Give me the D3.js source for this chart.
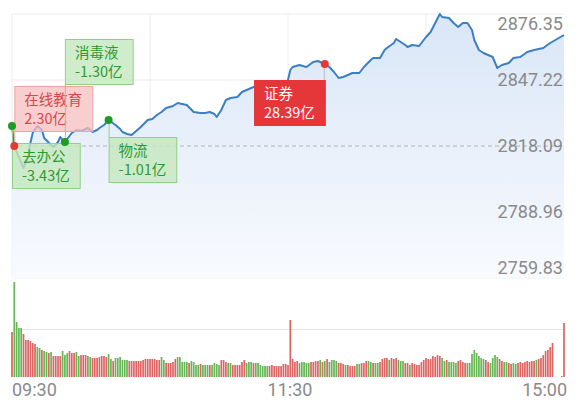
<!DOCTYPE html>
<html><head><meta charset="utf-8">
<script src="https://cdn.jsdelivr.net/npm/d3@7/dist/d3.min.js"></script>
<style>html,body{margin:0;padding:0;background:#fff}svg{display:block}</style>
</head><body><svg id="c" width="580" height="409"></svg>
<script>
// ---- data ----
const minutes=[0,1,3,5,7,8,9,11,13,14,
17,18,20,21,22,23,26,28,30,33,
35,37,38,40,42,45,47,48,50,52,
54,56,59,61,63,65,67,70,72,74,
76,79,82,84,86,88,89,91,93,95,
98,100,103,105,108,111,115,118,120,121,
122,125,128,131,133,136,138,140,142,144,
146,148,151,153,156,157,160,162,163,166,
167,169,171,172,174,177,178,180,182,184,
186,187,190,192,194,196,198,200,201,203,
205,207,209,211,213,216,218,221,224,227,
231,234,237,240];
const prices=[2826.92,2818.09,2813.24,2808.38,2813.24,2819.41,2823.83,2826.92,2825.15,2821.62,
2818.53,2817.65,2819.86,2822.06,2820.74,2819.86,2823.83,2825.15,2824.71,2826.03,
2824.27,2825.15,2826.03,2827.36,2829.57,2827.36,2825.59,2824.27,2823.39,2822.94,
2824.71,2826.48,2829.57,2830.01,2831.77,2833.10,2834.86,2835.74,2837.07,2836.63,
2836.19,2833.10,2832.65,2832.65,2833.10,2832.21,2830.89,2833.98,2838.39,2839.28,
2839.72,2841.92,2843.25,2844.13,2844.57,2844.57,2843.69,2844.57,2847.22,2851.63,
2852.96,2853.84,2852.96,2855.16,2855.61,2854.28,2852.96,2850.75,2848.10,2848.54,
2849.43,2850.31,2850.31,2852.96,2856.05,2856.93,2856.93,2860.46,2861.34,2863.55,
2865.32,2863.99,2862.67,2861.79,2862.67,2862.23,2863.55,2866.20,2868.41,2872.38,
2876.35,2875.02,2874.58,2872.38,2870.61,2872.38,2872.38,2869.29,2864.87,2860.46,
2859.14,2858.25,2857.37,2852.52,2853.84,2854.72,2856.93,2857.37,2859.58,2860.46,
2861.34,2863.55,2865.32,2867.08];
const volumes=[45,95,55,49,49,43,37,37,36,34,
33,30,29,27,26,25,24,25,21,21,
21,21,26,22,24,26,24,24,25,21,
22,22,22,21,20,19,19,19,20,21,
21,20,23,18,16,19,19,20,17,17,
17,16,16,16,16,16,16,17,18,18,
18,18,18,17,17,20,17,14,14,14,
15,18,20,20,15,15,15,14,16,15,
12,12,13,12,12,12,12,12,14,13,
12,17,17,15,14,14,12,12,12,12,
15,17,14,15,15,14,14,14,12,11,
11,11,11,12,11,11,11,11,13,13,
12,57,18,15,16,14,15,15,14,14,
15,15,16,16,17,15,16,18,15,17,
17,16,14,14,13,12,12,11,11,11,
13,13,14,14,16,16,15,14,14,14,
15,18,19,19,17,19,18,19,17,16,
16,14,14,12,14,13,12,12,15,17,
19,18,18,21,20,22,21,19,16,17,
15,15,15,14,16,17,15,14,14,14,
23,27,24,21,19,18,17,15,14,19,
22,20,18,16,15,15,14,13,14,13,
14,15,14,15,16,15,16,16,17,18,
19,22,26,27,30,34,0,0,0,1,
54];
const volUp=[1,0,0,0,0,1,1,1,1,1,
1,0,0,1,0,0,1,0,1,1,
1,1,0,0,0,1,1,1,0,0,
1,1,1,0,0,1,1,1,1,1,
1,1,0,0,1,0,0,0,0,0,
0,1,1,1,1,1,1,1,1,1,
1,1,1,1,1,0,0,1,1,1,
1,1,0,0,0,0,0,1,0,0,
0,0,1,0,0,0,1,0,0,0,
0,1,1,1,0,0,1,1,1,1,
1,1,0,0,0,1,0,0,0,0,
0,0,1,1,1,1,1,1,1,1,
1,1,1,1,1,0,0,0,0,0,
1,1,1,1,0,1,0,1,0,0,
0,0,1,1,1,0,1,1,1,1,
0,0,1,1,1,0,0,1,0,0,
1,1,1,1,0,1,1,1,0,0,
0,1,1,0,1,1,1,1,1,1,
1,1,1,1,1,1,1,0,0,1,
0,0,0,0,1,1,1,1,0,0,
0,0,0,0,0,0,1,1,0,0,
0,0,1,1,0,0,1,1,0,0,
1,1,1,1,1,1,1,1,0,1,
1,1,1,1,1,1,1,1,1,1,
1];
const priceTicks=[2876.35,2847.22,2818.09,2788.96,2759.83];
const prevClose=2818.09;
const timeLabels=["09:30","11:30","15:00"];
const timeLabelMinute=[0,120,240];
const annNames=["在线教育","去办公","消毒液","物流","证券"];
const annValues=["2.30亿","-3.43亿","-1.30亿","-1.01亿","28.39亿"];
const annMinute=[1,0,23,42,136];
const annUp=[1,0,0,0,1];

// ---- layout ----
const svg=d3.select("#c");
const X0=12,X1=564;
const x=d3.scaleLinear().domain([0,240]).range([X0,X1]);
const y=d3.scaleLinear().domain([2759.83,2876.35]).range([278,14]);
const yv=d3.scaleLinear().domain([0,95]).range([377,282]);

const defs=svg.append("defs");
const grad=defs.append("linearGradient").attr("id","g").attr("gradientUnits","userSpaceOnUse")
 .attr("x1",0).attr("y1",14).attr("x2",0).attr("y2",278);
grad.append("stop").attr("offset",0).attr("stop-color","#d9e6f7");
grad.append("stop").attr("offset",1).attr("stop-color","#f8fafe");

// grid
const grid=svg.append("g");
priceTicks.forEach(p=>{ if(p!==prevClose) grid.append("line").attr("x1",X0).attr("x2",X1).attr("y1",y(p)).attr("y2",y(p)).attr("stroke","#ececec").attr("stroke-width",1);});
[60,120,180].forEach(m=>grid.append("line").attr("x1",x(m)).attr("x2",x(m)).attr("y1",14).attr("y2",278).attr("stroke","#ececec"));
grid.append("line").attr("x1",X0).attr("x2",X0).attr("y1",14).attr("y2",278).attr("stroke","#ececec");
grid.append("line").attr("x1",X0).attr("x2",X1).attr("y1",yv(47.5)).attr("y2",yv(47.5)).attr("stroke","#e6e6e6");

const pts=minutes.map((m,i)=>({m,p:prices[i]}));
// area
svg.append("path").datum(pts)
 .attr("d",d3.area().x(d=>x(d.m)).y0(278).y1(d=>y(d.p)))
 .attr("fill","url(#g)");
// prev close dashed
svg.append("line").attr("x1",X0).attr("x2",X1).attr("y1",y(prevClose)).attr("y2",y(prevClose))
 .attr("stroke","#b5b5b5").attr("stroke-dasharray","4,3").attr("stroke-width",1);
// line
svg.append("path").datum(pts)
 .attr("d",d3.line().x(d=>x(d.m)).y(d=>y(d.p)))
 .attr("fill","none").attr("stroke","#3b7fc4").attr("stroke-width",2).attr("stroke-linejoin","round");

// price labels
const lblFont="Roboto, 'DejaVu Sans', sans-serif";
priceTicks.forEach((p,i)=>{
  const yy=y(p);
  let ty=yy+6;
  if(i===0) ty=yy+16; else if(i===priceTicks.length-1) ty=yy-4;
  svg.append("text").attr("x",563).attr("y",ty).attr("text-anchor","end")
   .attr("font-family",lblFont).attr("font-size",18).attr("fill","#8a8a8a").text(p.toFixed(2));
});

// volume bars
svg.append("g").selectAll("rect").data(volumes).join("rect")
 .attr("x",(d,i)=>x(i)-0.85).attr("width",1.7)
 .attr("y",d=>yv(d)).attr("height",d=>377-yv(d))
 .attr("fill",(d,i)=>volUp[i]?"#df6464":"#66b656");

// time labels
timeLabels.forEach((t,i)=>{
  const anchor=i===0?"start":(i===timeLabels.length-1?"end":"middle");
  let xx=x(timeLabelMinute[i]);
  if(i===timeLabels.length-1) xx=567;
  if(i===1) xx=290;
  svg.append("text").attr("x",xx).attr("y",396).attr("text-anchor",anchor)
   .attr("font-family",lblFont).attr("font-size",18).attr("fill","#8a8a8a").text(t);
});

// annotations
const annLayout=[{dy:-60,align:"left"},{dy:17,align:"left"},{dy:-103,align:"left"},{dy:17,align:"left"},{dy:16,align:"right"}];
const cjk="'Noto Sans CJK SC', 'Noto Sans', sans-serif";
const ann=svg.append("g");
const markers=svg.append("g");
annNames.forEach((name,i)=>{
  const idx=minutes.indexOf(annMinute[i]);
  const mx=x(annMinute[i]), my=y(prices[idx]);
  const L=annLayout[i];
  const up=annUp[i];
  const solid=(i===4);
  const g=ann.append("g");
  const t1=g.append("text").attr("font-family",cjk).attr("font-size",14.5).text(name);
  const t2=g.append("text").attr("font-family",cjk).attr("font-size",14.5).text(annValues[i]);
  const w=Math.max(t1.node().getComputedTextLength(),t2.node().getComputedTextLength())+20;
  const h=45;
  const bx=L.align==="left"?mx:mx-w;
  const by=my+L.dy;
  const fill=solid?"#e5363a":(up?"rgba(246,190,190,0.75)":"rgba(196,232,190,0.8)");
  const stroke=solid?"#e5363a":(up?"#eaa5a5":"#92cf88");
  const tc=solid?"#ffffff":(up?"#d8474a":"#2f9a2f");
  const ey=L.dy<0?by+h:by;
  const cx=L.align==="left"?mx+0.5:mx-0.5;
  g.insert("line","text").attr("x1",cx).attr("x2",cx).attr("y1",my).attr("y2",ey)
   .attr("stroke",solid?"#bbbbbb":stroke).attr("stroke-width",1);
  g.insert("rect","text").attr("x",bx+0.5).attr("y",by+0.5).attr("width",w).attr("height",h)
   .attr("fill",fill).attr("stroke",stroke).attr("stroke-width",1);
  t1.attr("x",bx+10).attr("y",by+19).attr("fill",tc);
  t2.attr("x",bx+10).attr("y",by+38).attr("fill",tc);
  markers.append("circle").attr("cx",mx).attr("cy",my).attr("r",4)
   .attr("fill",up?"#e53935":"#1e9a26");
});
</script></body></html>
